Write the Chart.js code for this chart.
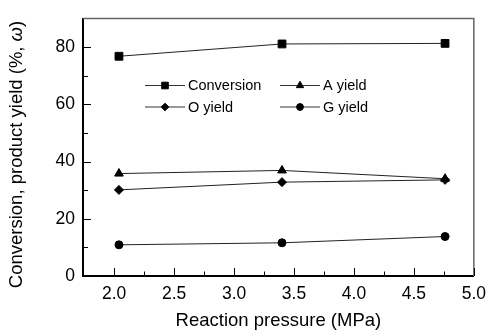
<!DOCTYPE html>
<html>
<head>
<meta charset="utf-8">
<script src="https://cdn.jsdelivr.net/npm/chart.js@4/dist/chart.umd.min.js"></script>
<style>
  html, body { margin: 0; padding: 0; background: #fff; }
  #wrap { width: 494px; height: 332px; position: relative; }
</style>
</head>
<body>
<div id="wrap"><canvas id="c"></canvas></div>
<script>
// ===== data =====
const pressure = [2.04, 3.40, 4.76];
const conversion = [76.8, 81.1, 81.3];
const aYield = [35.8, 36.9, 34.0];
const oYield = [30.1, 32.8, 33.6];
const gYield = [10.9, 11.6, 13.8];

const xTicks = [2.0, 2.5, 3.0, 3.5, 4.0, 4.5, 5.0];
const yTicks = [0, 20, 40, 60, 80];

const FONT = "'Liberation Sans', Arial, sans-serif";

function series(label, values, style, radius) {
  return {
    label: label,
    data: pressure.map((p, i) => ({ x: p, y: values[i] })),
    borderColor: "#222",
    borderWidth: 1,
    pointStyle: style,
    pointRadius: radius,
    pointHoverRadius: radius,
    pointBackgroundColor: "#000",
    pointBorderColor: "#000",
    pointBorderWidth: 1,
    fill: false,
    tension: 0
  };
}

const datasets = [
  series("Conversion", conversion, "rect", 5.5),
  series("A yield", aYield, "triangle", 5),
  series("O yield", oYield, "rectRot", 4.5),
  series("G yield", gYield, "circle", 4)
];

// inward tick marks (major + minor) and the grey top/right frame
const frameTicks = {
  id: "frameTicks",
  afterDraw(chart) {
    const { ctx, chartArea: a, scales: { x, y } } = chart;
    ctx.save();
    ctx.strokeStyle = "#666";
    ctx.lineWidth = 1.5;
    ctx.beginPath();
    ctx.moveTo(a.left, a.top);
    ctx.lineTo(a.right, a.top);
    ctx.lineTo(a.right, a.bottom);
    ctx.stroke();

    ctx.strokeStyle = "#000";
    ctx.lineWidth = 1;
    ctx.beginPath();
    for (let v = 2.0; v <= 5.0001; v += 0.25) {
      const px = Math.round(x.getPixelForValue(v)) + 0.5;
      const major = Math.abs(v * 2 - Math.round(v * 2)) < 1e-6;
      ctx.moveTo(px, a.bottom);
      ctx.lineTo(px, a.bottom - (major ? 8 : 4.5));
    }
    for (let v = 0; v <= 80; v += 10) {
      const py = Math.round(y.getPixelForValue(v)) + 0.5;
      const major = v % 20 === 0;
      ctx.moveTo(a.left, py);
      ctx.lineTo(a.left + (major ? 8 : 5), py);
    }
    ctx.stroke();

    // y axis title, with italic omega
    const parts = [
      { t: "Conversion, product yield (%, ", f: "18.5px " + FONT },
      { t: "ω", f: "italic 18.5px " + FONT },
      { t: ")", f: "18.5px " + FONT }
    ];
    let total = 0;
    parts.forEach(p => { ctx.font = p.f; p.w = ctx.measureText(p.t).width; total += p.w; });
    ctx.translate(17, 154.5);
    ctx.rotate(-Math.PI / 2);
    ctx.fillStyle = "#000";
    ctx.textBaseline = "middle";
    ctx.textAlign = "left";
    let cx = -total / 2;
    parts.forEach(p => { ctx.font = p.f; ctx.fillText(p.t, cx, 0); cx += p.w; });
    ctx.restore();
  }
};

// legend inside the plot: line with marker, two columns
const innerLegend = {
  id: "innerLegend",
  afterDraw(chart) {
    const { ctx } = chart;
    const spots = [
      { ds: 0, x: 145, y: 85 },
      { ds: 1, x: 280, y: 85 },
      { ds: 2, x: 145, y: 106.5 },
      { ds: 3, x: 280, y: 106.5 }
    ];
    ctx.save();
    spots.forEach(s => {
      const d = chart.data.datasets[s.ds];
      ctx.strokeStyle = "#333";
      ctx.lineWidth = 1;
      ctx.beginPath();
      ctx.moveTo(s.x, s.y + 0.5);
      ctx.lineTo(s.x + 40, s.y + 0.5);
      ctx.stroke();
      ctx.fillStyle = "#000";
      ctx.strokeStyle = "#000";
      Chart.helpers.drawPoint(ctx, {
        pointStyle: d.pointStyle,
        radius: d.pointRadius * 0.85,
        borderWidth: 1,
        rotation: 0
      }, s.x + 20, s.y + 0.5);
      ctx.font = "14.5px " + FONT;
      ctx.textBaseline = "middle";
      ctx.textAlign = "left";
      ctx.fillStyle = "#000";
      ctx.fillText(d.label, s.x + 43, s.y + 1);
    });
    ctx.restore();
  }
};

new Chart(document.getElementById("c"), {
  type: "line",
  data: { datasets: datasets },
  plugins: [frameTicks, innerLegend],
  options: {
    responsive: true,
    maintainAspectRatio: false,
    animation: false,
    events: [],
    layout: { padding: { top: 13, right: 16, left: 0, bottom: 0 } },
    plugins: { legend: { display: false }, tooltip: { enabled: false } },
    scales: {
      x: {
        type: "linear",
        min: 1.74,
        max: 5.0,
        afterBuildTicks: s => { s.ticks = xTicks.map(v => ({ value: v })); },
        afterFit: s => { s.height = 56; },
        grid: { display: true, drawOnChartArea: false, drawTicks: false, tickLength: 0 },
        border: { display: true, color: "#000", width: 2 },
        ticks: {
          color: "#000",
          padding: 8,
          font: { family: FONT, size: 17.5 },
          callback: v => v.toFixed(1)
        },
        title: {
          display: true,
          text: "Reaction pressure (MPa)",
          color: "#000",
          font: { family: FONT, size: 18.5 },
          padding: { top: 0, bottom: 0 }
        }
      },
      y: {
        min: 0,
        max: 90,
        afterBuildTicks: s => { s.ticks = yTicks.map(v => ({ value: v })); },
        afterFit: s => { s.width = 83; },
        grid: { display: true, drawOnChartArea: false, drawTicks: false, tickLength: 0 },
        border: { display: true, color: "#000", width: 2 },
        ticks: {
          color: "#000",
          padding: 8,
          font: { family: FONT, size: 17.5 }
        },
        title: { display: false }
      }
    }
  }
});
</script>
</body>
</html>
